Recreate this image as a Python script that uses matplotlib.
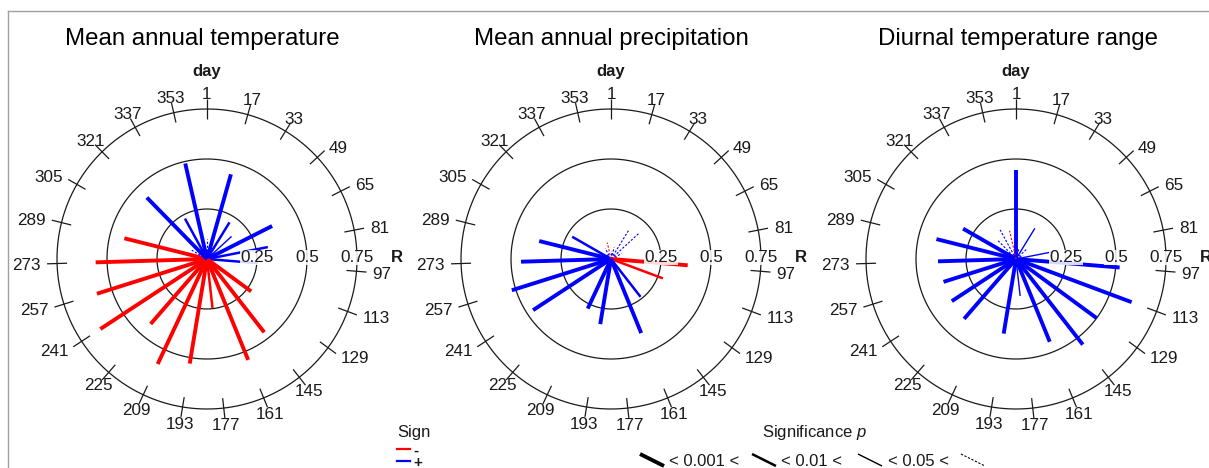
import numpy as np
import matplotlib
matplotlib.use("Agg")
import matplotlib.pyplot as plt
from matplotlib.lines import Line2D
import matplotlib.transforms as mtransforms

plt.rcParams['font.family'] = ['Liberation Sans', 'DejaVu Sans']
plt.rcParams['mathtext.fontset'] = 'custom'
plt.rcParams['mathtext.rm'] = 'Liberation Sans'
plt.rcParams['mathtext.it'] = 'Liberation Sans:italic'

# ---------------- data ----------------
days = [1, 17, 33, 49, 65, 81, 97, 113, 129, 145, 161, 177,
        193, 209, 225, 241, 257, 273, 289, 305, 321, 337, 353]

titles = ["Mean annual temperature", "Mean annual precipitation",
          "Diurnal temperature range"]

# signed correlation (length = R, sign -> colour)
temp_r = [0.10, 0.44, 0.215, 0.167, 0.365, 0.31, 0.254, -0.04, -0.274, -0.465,
          -0.545, -0.246, -0.53, -0.58, -0.43, -0.638, -0.577, -0.557, -0.426,
          0.088, 0.43, 0.23, 0.49]
temp_sig = ["ns", "***", "**", "*", "***", "**", "**", "ns", "***", "***",
            "***", "**", "***", "***", "***", "***", "***", "***", "***",
            "ns", "***", "**", "***"]

prec_r = [0.04, 0.06, 0.166, 0.193, 0.06, 0.03, -0.385, -0.277, -0.02, 0.24,
          0.40, 0.03, 0.33, 0.274, 0.02, 0.466, 0.52, 0.45, 0.37,
          0.224, 0.03, 0.06, -0.084]
prec_sig = ["ns", "ns", "ns", "ns", "ns", "ns", "***", "**", "ns", "**",
            "***", "ns", "***", "***", "ns", "***", "***", "***", "***",
            "**", "ns", "ns", "ns"]

dtr_r = [0.445, 0.05, 0.18, 0.075, 0.04, 0.21, 0.52, 0.617, 0.50, 0.543,
         0.447, 0.186, 0.378, 0.03, 0.396, 0.384, 0.38, 0.39, 0.41,
         0.305, 0.13, 0.166, -0.145]
dtr_sig = ["***", "ns", "*", "ns", "ns", "*", "***", "***", "***", "***",
           "***", "*", "***", "ns", "***", "***", "***", "***", "***",
           "***", "ns", "ns", "ns"]

ring_values = [0.25, 0.5, 0.75]
ring_labels = ["0.25", "0.5", "0.75"]
sig_levels = ["***", "**", "*", "ns"]
sig_text = ["< 0.001 <", "< 0.01 <", "< 0.05 <"]
sign_labels = ["-", "+"]

panels = [(temp_r, temp_sig), (prec_r, prec_sig), (dtr_r, dtr_sig)]

# ---------------- style ----------------
RED = "#ff0000"
BLUE = "#0000ff"
INK = "#1a1a1a"
styles = {
    "***": dict(lw=2.8, ls="-"),
    "**": dict(lw=1.8, ls="-"),
    "*": dict(lw=1.0, ls="-"),
    "ns": dict(lw=0.8, ls=(0, (2.0, 1.5))),
}

W, H = 1209, 468
fig = plt.figure(figsize=(W / 100, H / 100), dpi=100)
fig.patch.set_facecolor("white")

centers_x = [207, 611, 1016]
center_y = 259
rad_px = 200
title_x = [0.488, 0.5, 0.505]


def theta(d):
    return (d - 1) / 365.0 * 2 * np.pi


for i, ((vals, sigs), cx) in enumerate(zip(panels, centers_x)):
    rect = [(cx - rad_px) / W, (H - center_y - rad_px) / H, 2 * rad_px / W, 2 * rad_px / H]
    ax = fig.add_axes(rect, projection="polar")
    ax.set_theta_zero_location("N")
    ax.set_theta_direction(-1)
    ax.set_ylim(0, 1)
    ax.set_axis_off()

    th = np.linspace(0, 2 * np.pi, 721) + 0.7
    for r in ring_values:
        ax.plot(th, np.full_like(th, r), color=INK, lw=0.9, zorder=1,
                solid_capstyle="butt", solid_joinstyle="round")

    for d in days:
        t = theta(d)
        ax.plot([t, t], [0.70, 0.80], color=INK, lw=0.9, zorder=1,
                solid_capstyle="butt")
        deg = np.degrees(t)
        if 45 < deg < 135:
            ha = "left"
        elif 225 < deg < 315:
            ha = "right"
        else:
            ha = "center"
        ax.text(t, 0.83, str(d), ha=ha, va="center_baseline", fontsize=12.3,
                color=INK)

    ax.text(0, 0.915, "day", ha="center", va="baseline", fontsize=12,
            fontweight="bold", color=INK)

    up = mtransforms.offset_copy(ax.transData, fig=fig, x=0, y=3, units="dots")
    for r, lbl in zip(ring_values, ring_labels):
        ax.text(np.pi / 2, r, lbl, transform=up, ha="center", va="center_baseline",
                fontsize=12.3, color=INK, zorder=4,
                bbox=dict(facecolor="white", edgecolor="none", pad=0.3, alpha=0.85))
    ax.text(np.pi / 2, 0.95, "R", transform=up, ha="center", va="center_baseline",
            fontsize=12, fontweight="bold", color=INK)

    for d, v, s in zip(days, vals, sigs):
        t = theta(d)
        col = RED if v < 0 else BLUE
        ax.plot([t, t], [0, abs(v)], color=col, zorder=3,
                solid_capstyle="butt", dash_capstyle="butt", **styles[s])

    ax.text(title_x[i], 1.035, titles[i], transform=ax.transAxes, ha="center",
            va="baseline", fontsize=17.3, color="black")

# ---------------- frame ----------------
fig.add_artist(Line2D([8 / W, 1.0], [1 - 11 / H, 1 - 11 / H], transform=fig.transFigure,
                      color="#a0a0a0", lw=1))
fig.add_artist(Line2D([8 / W, 8 / W], [0, 1 - 11 / H], transform=fig.transFigure,
                      color="#a0a0a0", lw=1))


def fx(x):
    return x / W


def fy(y):
    return 1 - y / H


# ---------------- sign legend ----------------
fig.text(fx(397), fy(433), "Sign", ha="left", va="center", fontsize=12, color=INK)
for yy, col, lbl in zip([449, 461], [RED, BLUE], sign_labels):
    fig.add_artist(Line2D([fx(397), fx(410)], [fy(yy), fy(yy)], transform=fig.transFigure,
                          color=col, lw=1.6))
    fig.text(fx(413), fy(yy), lbl, ha="left", va="center_baseline", fontsize=11,
             fontweight="bold", color=INK)

# ---------------- significance legend ----------------
fig.text(fx(762), fy(433), r"Significance $\mathit{p}$", ha="left", va="center",
         fontsize=12, color=INK)
key_x = [640, 752, 858, 961]
text_x = [669, 781, 888]
for k, lvl in enumerate(sig_levels):
    x0 = key_x[k]
    st = styles[lvl]
    fig.add_artist(Line2D([fx(x0), fx(x0 + 24)], [fy(454), fy(466)], transform=fig.transFigure,
                          color="black", lw=st["lw"], ls=st["ls"], solid_capstyle="butt"))
    if k < len(sig_text):
        fig.text(fx(text_x[k]), fy(461), sig_text[k], ha="left", va="center",
                 fontsize=12, color=INK)

fig.savefig("out.png", dpi=100, facecolor="white")
